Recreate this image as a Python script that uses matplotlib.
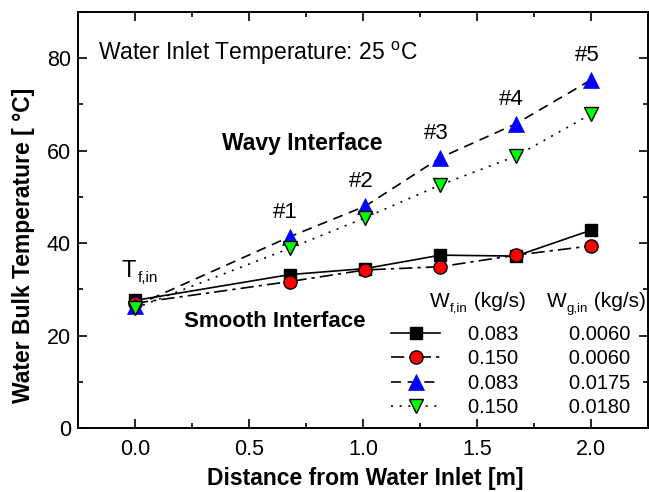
import matplotlib
matplotlib.use("Agg")
import matplotlib.pyplot as plt
from matplotlib.ticker import MultipleLocator

plt.rcParams['font.family'] = ['Liberation Sans', 'DejaVu Sans']
plt.rcParams['mathtext.fontset'] = 'custom'
plt.rcParams['mathtext.rm'] = 'Liberation Sans'
plt.rcParams['mathtext.it'] = 'Liberation Sans:italic'
plt.rcParams['mathtext.bf'] = 'Liberation Sans:bold'

# ---- data ----
distance = [0.0, 0.68, 1.01, 1.34, 1.67, 2.0]
temp_sq = [27.6, 33.2, 34.5, 37.4, 37.2, 42.8]       # Wf=0.083, Wg=0.0060
temp_circ = [27.0, 31.7, 34.2, 34.9, 37.4, 39.4]     # Wf=0.150, Wg=0.0060
temp_up = [26.4, 41.4, 48.0, 58.5, 65.8, 75.3]       # Wf=0.083, Wg=0.0175
temp_down = [25.9, 38.9, 45.5, 52.6, 58.8, 67.9]     # Wf=0.150, Wg=0.0180
wf_vals = ["0.083", "0.150", "0.083", "0.150"]
wg_vals = ["0.0060", "0.0060", "0.0175", "0.0180"]
station_labels = ["#1", "#2", "#3", "#4", "#5"]

fig = plt.figure(figsize=(6.49, 4.92), dpi=100)
ax = fig.add_axes([0.120, 0.130, 0.8785, 0.8456])

l1, = ax.plot(distance, temp_sq, ls='-', color='black', lw=1.2,
              marker='s', ms=8.5, mfc='black', mec='black', zorder=3)
l2, = ax.plot(distance, temp_circ, ls=(0, (8, 3, 2, 3)), color='black', lw=1.2,
              marker='o', ms=9.5, mfc='#FF0000', mec='black', mew=1.0, zorder=4)
l3, = ax.plot(distance, temp_up, ls=(0, (6, 4)), color='black', lw=1.2,
              marker='^', ms=11, mfc='#0000FF', mec='#0000FF', mew=0.5, zorder=5)
l4, = ax.plot(distance, temp_down, ls=(0, (1.2, 4)), color='black', lw=1.2,
              marker='v', ms=10, mfc='#00FF00', mec='black', mew=1.0, zorder=6)

ax.set_xlim(-0.25, 2.25)
ax.set_ylim(0, 90)
ax.xaxis.set_major_locator(MultipleLocator(0.5))
ax.xaxis.set_minor_locator(MultipleLocator(0.25))
ax.yaxis.set_major_locator(MultipleLocator(20))
ax.yaxis.set_minor_locator(MultipleLocator(10))
ax.xaxis.set_major_formatter(matplotlib.ticker.FormatStrFormatter('%.1f'))
ax.tick_params(which='both', direction='in', top=True, right=True, labelsize=15.5, width=1.2)
ax.tick_params(which='major', length=6.5)
ax.tick_params(which='minor', length=3.5)
ax.tick_params(axis='x', pad=8)
ax.tick_params(axis='y', pad=5)
for sp in ax.spines.values():
    sp.set_linewidth(1.4)

ax.set_xlabel('Distance from Water Inlet [m]', fontsize=16.5, fontweight='bold')
ax.set_ylabel('Water Bulk Temperature [ °C]', fontsize=16.5, fontweight='bold')
ax.xaxis.set_label_coords(0.504, -0.093)
ax.yaxis.set_label_coords(-0.075, 0.44)

# annotations
ax.text(0.035, 0.9, r'Water Inlet Temperature: 25 $^{\rm o}$C', transform=ax.transAxes,
        fontsize=16.5, va='center', ha='left')
ax.text(0.252, 0.683, 'Wavy Interface', transform=ax.transAxes, fontsize=16.5,
        fontweight='bold', va='center', ha='left')
ax.text(0.186, 0.255, 'Smooth Interface', transform=ax.transAxes, fontsize=16,
        fontweight='bold', va='center', ha='left')
tT = ax.text(-0.027, 34.0, 'T', fontsize=17, ha='center', va='center')
ax.annotate('f,in', xy=(1.0, 0.0), xycoords=tT, xytext=(1, -2), textcoords='offset points',
            fontsize=11, ha='left', va='bottom')
for xv, yv, lab in zip(distance[1:], temp_up[1:], station_labels):
    ax.annotate(lab, (xv, yv), xytext=(-3, 10), textcoords='offset points',
                fontsize=16, ha='center', va='bottom')

# legend
labels = [f"{a}         {b}" for a, b in zip(wf_vals, wg_vals)]
leg = ax.legend([l1, l2, l3, l4], labels, loc='lower right',
                bbox_to_anchor=(0.984, 0.006), frameon=False, fontsize=14.5,
                handlelength=2.43, handletextpad=1.4, labelspacing=0.28,
                borderaxespad=0.0)


def header(x, sub):
    t = ax.text(x, 0.305, 'W', transform=ax.transAxes, fontsize=15,
                ha='left', va='center')
    s = ax.annotate(sub, xy=(1.0, 0.0), xycoords=t, xytext=(0.5, -3),
                    textcoords='offset points', fontsize=9.5, ha='left', va='bottom')
    ax.annotate(' (kg/s)', xy=(1.0, 0.0), xycoords=s, xytext=(0, 3),
                textcoords='offset points', fontsize=15, ha='left', va='bottom')


header(0.617, 'f,in')
header(0.822, 'g,in')

fig.savefig('out.png', dpi=100)
